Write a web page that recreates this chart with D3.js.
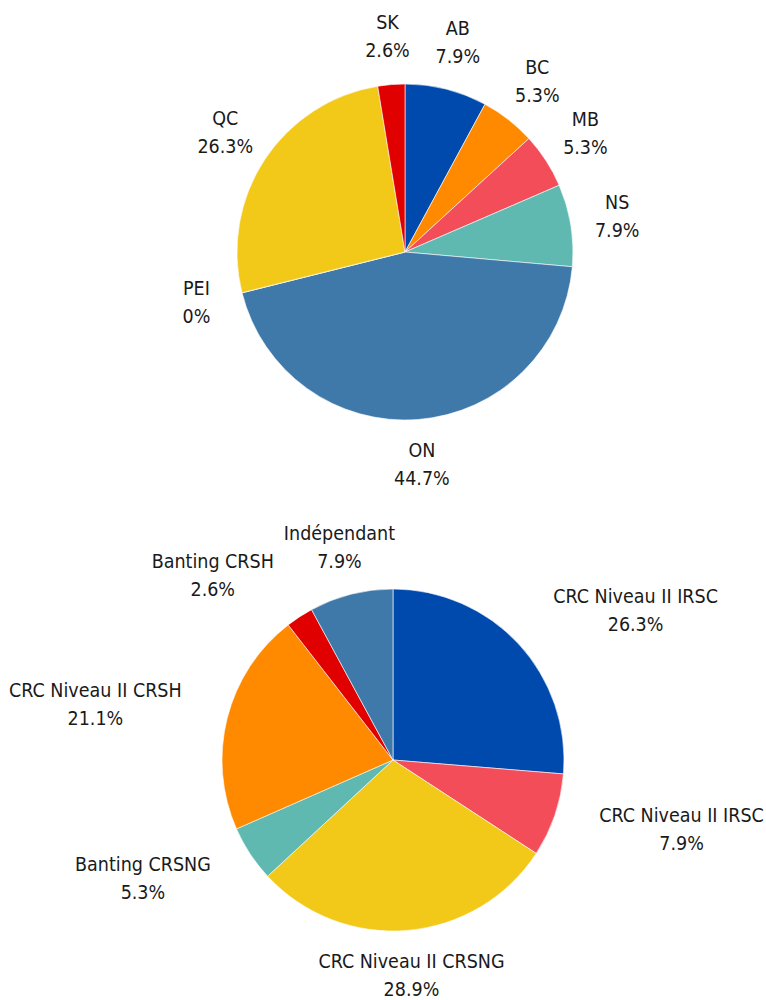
<!DOCTYPE html>
<html>
<head>
<meta charset="utf-8">
<script src="https://cdn.jsdelivr.net/npm/d3@7"></script>
<style>
  body { margin: 0; background: #fff; }
  text { font-family: "DejaVu Sans Condensed", "Liberation Sans Narrow", sans-serif; font-size: 19.5px; fill: #1a1a1a; }
</style>
</head>
<body>
<div id="chart"></div>
<script>
// top pie: by province
var provinces = ["AB", "BC", "MB", "NS", "ON", "PEI", "QC", "SK"];
var provinceShares = [7.9, 5.3, 5.3, 7.9, 44.7, 0, 26.3, 2.6];
var provinceColors = ["#004aad", "#ff8a00", "#f44d5a", "#5fb9b1", "#3f79a9", "#9aa5b1", "#f2c819", "#e00000"];

// bottom pie: by program
var programs = ["CRC Niveau II IRSC", "CRC Niveau II IRSC", "CRC Niveau II CRSNG", "Banting CRSNG", "CRC Niveau II CRSH", "Banting CRSH", "Indépendant"];
var programShares = [26.3, 7.9, 28.9, 5.3, 21.1, 2.6, 7.9];
var programColors = ["#004aad", "#f44d5a", "#f2c819", "#5fb9b1", "#ff8a00", "#e00000", "#3f79a9"];

var width = 766, height = 1000;

var svg = d3.select("#chart").append("svg")
  .attr("width", width)
  .attr("height", height);

function drawPie(labels, values, colors, cx, cy, r, shiftLabels) {
  var data = labels.map(function(l, i) { return {label: l, value: values[i], color: colors[i]}; });
  var pie = d3.pie().sort(null).value(function(d) { return d.value; });
  var arc = d3.arc().innerRadius(0).outerRadius(r);
  var labelR = r + 47;

  var g = svg.append("g").attr("transform", "translate(" + cx + "," + cy + ")");

  g.selectAll("path")
    .data(pie(data))
    .enter()
    .append("path")
    .attr("d", arc)
    .attr("fill", function(d) { return d.data.color; })
    .attr("stroke", "#fff")
    .attr("stroke-width", 0.6);

  var labs = g.selectAll("g.lab")
    .data(pie(data))
    .enter()
    .append("g")
    .attr("class", "lab");

  labs.each(function(d) {
    var a = (d.startAngle + d.endAngle) / 2;
    var x = labelR * Math.sin(a), y = -labelR * Math.cos(a);
    var t = d3.select(this).append("text").attr("text-anchor", "middle");
    var l1 = t.append("tspan").attr("x", x).attr("y", y - 9).text(d.data.label);
    var l2 = t.append("tspan").attr("x", x).attr("y", y + 19).text(d.data.value + "%");
    if (shiftLabels) {
      // push wide labels off the pie: the near edge of the block sits on the anchor
      var w = this.getBBox().width;
      var s = Math.sin(a);
      if (Math.abs(s) > 0.4 && Math.abs(s) * labelR - w / 2 < r) {
        var nx = x + (s > 0 ? 1 : -1) * w / 2;
        l1.attr("x", nx);
        l2.attr("x", nx);
      }
    }
  });
}

drawPie(provinces, provinceShares, provinceColors, 405, 252, 168, false);
drawPie(programs, programShares, programColors, 393, 760, 171, true);
</script>
</body>
</html>
